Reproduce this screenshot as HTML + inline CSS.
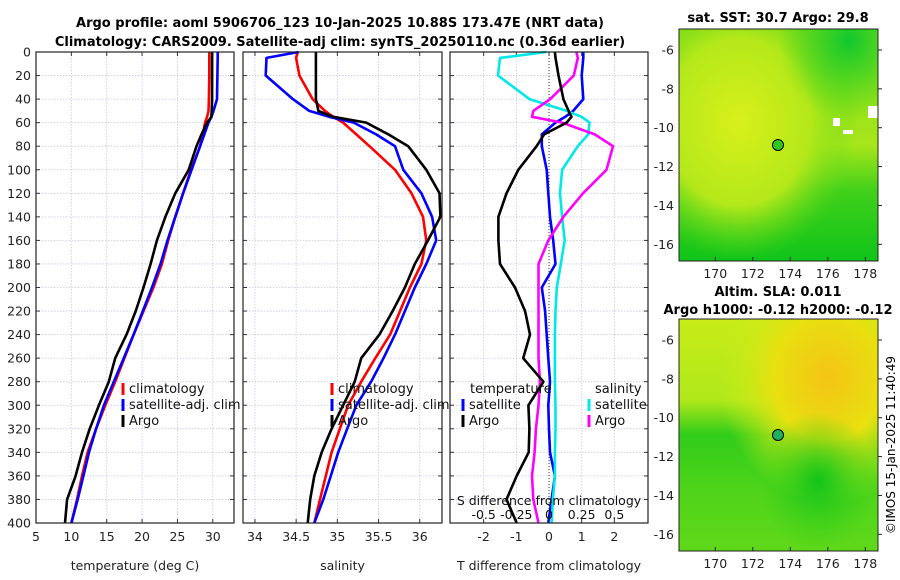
<!DOCTYPE html>
<html><head><meta charset="utf-8"><style>
body{margin:0;background:#fff;}
svg{display:block;font-family:"DejaVu Sans","Liberation Sans",sans-serif;}
</style></head><body>
<svg id="fig" width="900" height="580" viewBox="0 0 900 580">
<defs>
<radialGradient id="sstA" cx="0.3" cy="0.4" r="0.6"><stop offset="0" stop-color="#d8f01a"/><stop offset="0.6" stop-color="#b4e81a"/><stop offset="1" stop-color="#60d818" stop-opacity="0"/></radialGradient>
<linearGradient id="sstB" x1="0" y1="0" x2="0" y2="1"><stop offset="0" stop-color="#80dc18"/><stop offset="0.5" stop-color="#a8e61a"/><stop offset="0.7" stop-color="#40d01a"/><stop offset="1" stop-color="#10c41a"/></linearGradient>
<radialGradient id="sstC" cx="0.85" cy="0.05" r="0.35"><stop offset="0" stop-color="#10c830"/><stop offset="1" stop-color="#30d01a" stop-opacity="0"/></radialGradient>
<radialGradient id="slaA" cx="0.75" cy="0.25" r="0.55"><stop offset="0" stop-color="#f4c414"/><stop offset="0.5" stop-color="#e8e010"/><stop offset="1" stop-color="#c4f01a" stop-opacity="0"/></radialGradient>
<linearGradient id="slaB" x1="0" y1="0" x2="0" y2="1"><stop offset="0" stop-color="#c8ec18"/><stop offset="0.35" stop-color="#b0e81a"/><stop offset="0.5" stop-color="#30cc1a"/><stop offset="0.75" stop-color="#50d41a"/><stop offset="1" stop-color="#60d81a"/></linearGradient>
<radialGradient id="slaC" cx="0.7" cy="0.7" r="0.3"><stop offset="0" stop-color="#10c41a"/><stop offset="1" stop-color="#30cc1a" stop-opacity="0"/></radialGradient>
</defs>
<text x="340" y="27" font-size="13" font-weight="bold" text-anchor="middle">Argo profile: aoml 5906706_123 10-Jan-2025 10.88S 173.47E (NRT data)</text>
<text x="340" y="46" font-size="13" font-weight="bold" text-anchor="middle">Climatology: CARS2009. Satellite-adj clim: synTS_20250110.nc (0.36d earlier)</text>
<g id="p1"></g><g id="p2"></g><g id="p3"></g>
<g id="m1">
<text x="778" y="22" font-size="13" font-weight="bold" text-anchor="middle">sat. SST: 30.7 Argo: 29.8</text>
<rect x="679" y="29" width="199" height="232" fill="url(#sstB)"/>
<rect x="679" y="29" width="199" height="232" fill="url(#sstA)"/>
<rect x="679" y="29" width="199" height="232" fill="url(#sstC)"/>
<rect x="868" y="106" width="10" height="12" fill="#fff"/><rect x="833" y="118" width="7" height="8" fill="#fff"/><rect x="843" y="130" width="10" height="4" fill="#fff"/>
<circle cx="778" cy="145" r="5.5" fill="#30c81a" stroke="#000" stroke-width="1"/>
<rect x="679" y="29" width="199" height="232" fill="none" stroke="#222" stroke-width="1"/>
</g>
<g id="m2">
<text x="778" y="296" font-size="13" font-weight="bold" text-anchor="middle">Altim. SLA: 0.011</text>
<text x="778" y="314" font-size="13" font-weight="bold" text-anchor="middle">Argo h1000: -0.12 h2000: -0.12</text>
<rect x="679" y="319" width="199" height="232" fill="url(#slaB)"/>
<rect x="679" y="319" width="199" height="232" fill="url(#slaA)"/>
<rect x="679" y="319" width="199" height="232" fill="url(#slaC)"/>
<circle cx="778" cy="435" r="5.5" fill="#20b060" stroke="#000" stroke-width="1"/>
<rect x="679" y="319" width="199" height="232" fill="none" stroke="#222" stroke-width="1"/>
</g>
<text transform="translate(895,445) rotate(-90)" font-size="12" text-anchor="middle">©IMOS 15-Jan-2025 11:40:49</text>
</svg>
<script>
const depths=[0,5,20,40,50,55,60,70,80,100,120,140,160,180,200,220,240,260,280,300,320,340,360,380,400];
const tArgo=[29.9,29.9,29.9,29.9,29.85,29.8,29.2,28.4,27.7,26.6,24.7,23.3,22.1,21.2,20.2,19.1,17.8,16.2,15.3,13.9,12.6,11.5,10.6,9.4,9.1];
const tClim=[29.5,29.5,29.5,29.45,29.4,29.2,28.9,28.6,28.2,26.9,25.8,24.7,23.7,22.8,21.6,20.2,18.8,17.5,16.2,14.8,13.5,12.3,11.5,10.8,10.0];
const tSat=[30.7,30.7,30.65,30.6,30.1,29.8,29.4,28.8,28.2,27.0,25.8,24.7,23.6,22.6,21.4,20.1,18.8,17.4,16.0,14.6,13.5,12.5,11.7,10.9,10.0];
const sArgo=[34.74,34.74,34.74,34.74,34.77,34.95,35.35,35.62,35.86,36.08,36.24,36.25,36.1,35.94,35.82,35.67,35.51,35.29,35.21,35.07,34.93,34.81,34.72,34.67,34.64];
const sClim=[34.52,34.5,34.54,34.7,34.85,34.95,35.07,35.23,35.39,35.7,35.9,36.04,36.08,36.02,35.88,35.76,35.64,35.46,35.29,35.13,35.03,34.93,34.86,34.79,34.72];
const sSat=[34.53,34.14,34.13,34.46,34.66,34.9,35.2,35.47,35.7,35.8,36.02,36.15,36.2,36.08,35.94,35.82,35.7,35.56,35.41,35.23,35.12,35.01,34.92,34.83,34.72];
const dtArgo=[0.18,0.2,0.29,0.44,0.6,0.69,0.54,-0.15,-0.38,-0.94,-1.3,-1.55,-1.55,-1.5,-1.04,-0.73,-0.58,-0.79,-0.17,-0.63,-0.6,-0.62,-0.99,-1.3,-0.99];
const dtSat=[1.05,1.05,1.0,1.05,0.74,0.5,0.2,-0.22,-0.22,-0.07,-0.02,0.03,0.13,0.2,-0.22,-0.12,-0.07,-0.02,0.03,-0.02,0.0,0.03,0.18,0.08,-0.02];
const dsSat=[-0.02,-0.375,-0.39,-0.15,0.135,0.25,0.31,0.3,0.22,0.10,0.084,0.1,0.12,0.09,0.06,0.05,0.045,0.045,0.045,0.05,0.05,0.045,0.045,0.03,0.02];
const dsArgo=[0.21,0.22,0.19,0.01,-0.12,-0.13,0.1,0.35,0.49,0.44,0.26,0.11,-0.005,-0.08,-0.08,-0.08,-0.08,-0.08,-0.07,-0.08,-0.1,-0.11,-0.13,-0.12,-0.08];
const depthTicks=[0,20,40,60,80,100,120,140,160,180,200,220,240,260,280,300,320,340,360,380,400];
const tTicks=[5,10,15,20,25,30];
const sTicks=[34,34.5,35,35.5,36];
const dtTicks=[-2,-1,0,1,2];
const dsTicks=[-0.5,-0.25,0,0.25,0.5];
const dsTickLabels=["-0.5","-0.25","0","0.25","0.5"];

const NS="http://www.w3.org/2000/svg";
function mk(parent,tag,attrs,text){const e=document.createElementNS(NS,tag);for(const k in attrs)e.setAttribute(k,attrs[k]);if(text!==undefined)e.textContent=text;parent.appendChild(e);return e;}
const Y0=52,Y1=523;
const yS=d=>Y0+(d/400)*(Y1-Y0);
function panel(g,x0,x1,xmin,xmax,ticks,fmt,xlabel,showY){
  const xs=v=>x0+(v-xmin)/(xmax-xmin)*(x1-x0);
  for(const d of depthTicks){const l=mk(g,'line',{x1:x0,x2:x1,y1:yS(d),y2:yS(d),stroke:'#c4c8e0','stroke-width':0.8,'stroke-dasharray':'1.5,1.5'});
    
    mk(g,'line',{x1:x0,x2:x0+4,y1:yS(d),y2:yS(d),stroke:'#333'});mk(g,'line',{x1:x1-4,x2:x1,y1:yS(d),y2:yS(d),stroke:'#333'});
    if(showY){const t=mk(g,'text',{x:x0-5,y:yS(d)+4.5,'font-size':12.5,'text-anchor':'end',fill:'#222'},String(d));}}
  for(const v of ticks){const l=mk(g,'line',{x1:xs(v),x2:xs(v),y1:Y0,y2:Y1,stroke:'#c4c8e0','stroke-width':0.8,'stroke-dasharray':'1.5,1.5'});
    
    mk(g,'line',{x1:xs(v),x2:xs(v),y1:Y1,y2:Y1-4,stroke:'#333'});mk(g,'line',{x1:xs(v),x2:xs(v),y1:Y0,y2:Y0+4,stroke:'#333'});
    const t=mk(g,'text',{x:xs(v),y:Y1+18,'font-size':12.5,'text-anchor':'middle',fill:'#222'},fmt(v));}
  const lab=mk(g,'text',{x:(x0+x1)/2,y:Y1+47,'font-size':12.5,'text-anchor':'middle',fill:'#222'},xlabel);
  
  return xs;
}
function frame(g,x0,x1){const r=mk(g,'rect',{x:x0,y:Y0,width:x1-x0,height:Y1-Y0,fill:'none',stroke:'#222','stroke-width':1.2});}
function line(g,xs,vals,color,name){const pts=vals.map((v,i)=>xs(v).toFixed(1)+','+yS(depths[i]).toFixed(1)).join(' ');
  const p=mk(g,'polyline',{points:pts,fill:'none',stroke:color,'stroke-width':2.6,'stroke-linejoin':'round'});
  }
function leg(g,x,y,color,label,name){mk(g,'rect',{x:x-1.5,y:y-10,width:3,height:12,fill:color});
  const t=mk(g,'text',{x:x+6,y:y,'font-size':13,fill:'#111'},label);}

const p1=document.getElementById('p1');
const xt=panel(p1,36,234,5,33,tTicks,String,'temperature (deg C)',true);
line(p1,xt,tClim,'#ff0000','temp-climatology-line');line(p1,xt,tSat,'#0000ff','temp-satellite-line');line(p1,xt,tArgo,'#000000','temp-argo-line');
frame(p1,36,234);
leg(p1,123,393,'#ff0000','climatology','legend-climatology');leg(p1,123,409,'#0000ff','satellite-adj. clim','legend-satellite');leg(p1,123,425,'#000','Argo','legend-argo');

const p2=document.getElementById('p2');
const xsal=panel(p2,243,442,33.855,36.27,sTicks,String,'salinity',false);
line(p2,xsal,sClim,'#ff0000','sal-climatology-line');line(p2,xsal,sSat,'#0000ff','sal-satellite-line');line(p2,xsal,sArgo,'#000000','sal-argo-line');
frame(p2,243,442);
leg(p2,332,393,'#ff0000','climatology','legend-climatology');leg(p2,332,409,'#0000ff','satellite-adj. clim','legend-satellite');leg(p2,332,425,'#000','Argo','legend-argo');

const p3=document.getElementById('p3');
const xd=panel(p3,450,648,-3.03,3.03,dtTicks,String,'T difference from climatology',false);
const xds=v=>xd(v*4);
mk(p3,'line',{x1:xd(0),x2:xd(0),y1:Y0,y2:Y1,stroke:'#333','stroke-width':1,'stroke-dasharray':'1,2'});
line(p3,xd,dtSat,'#0000ff','dT-satellite-line');line(p3,xds,dsSat,'#00e8e8','dS-satellite-line');
line(p3,xds,dsArgo,'#ff00ff','dS-argo-line');line(p3,xd,dtArgo,'#000000','dT-argo-line');
frame(p3,450,648);
let t=mk(p3,'text',{x:549,y:505,'font-size':12.5,'text-anchor':'middle',fill:'#111'},'S difference from climatology');
dsTicks.forEach((v,i)=>{const e=mk(p3,'text',{x:xds(v),y:519,'font-size':12.5,'text-anchor':'middle',fill:'#111'},dsTickLabels[i]);});
t=mk(p3,'text',{x:470,y:393,'font-size':13,fill:'#111'},'temperature');
t=mk(p3,'text',{x:595,y:393,'font-size':13,fill:'#111'},'salinity');
leg(p3,463,409,'#0000ff','satellite','legend-t-satellite');leg(p3,463,425,'#000','Argo','legend-t-argo');
leg(p3,589,409,'#00e8e8','satellite','legend-s-satellite');leg(p3,589,425,'#ff00ff','Argo','legend-s-argo');

const lonTicks=[170,172,174,176,178];const latTicks=[-6,-8,-10,-12,-14,-16];
function mapAxes(id,top,bottom,lat6y){const g=document.getElementById(id);
  const lx=v=>715.3+(v-170)*18.75;const ly=v=>lat6y+(-6-v)*19.43;
  for(const v of lonTicks){mk(g,'line',{x1:lx(v),x2:lx(v),y1:bottom,y2:bottom-4,stroke:'#222'});
    const e=mk(g,'text',{x:lx(v),y:bottom+17,'font-size':12.5,'text-anchor':'middle',fill:'#222'},String(v));}
  for(const v of latTicks){mk(g,'line',{x1:878,x2:882,y1:ly(v),y2:ly(v),stroke:'#222'});
    const e=mk(g,'text',{x:674,y:ly(v)+4.5,'font-size':12.5,'text-anchor':'end',fill:'#222'},String(v));}
}
mapAxes('m1',29,261,50);mapAxes('m2',319,551,340);
</script>
</body></html>
